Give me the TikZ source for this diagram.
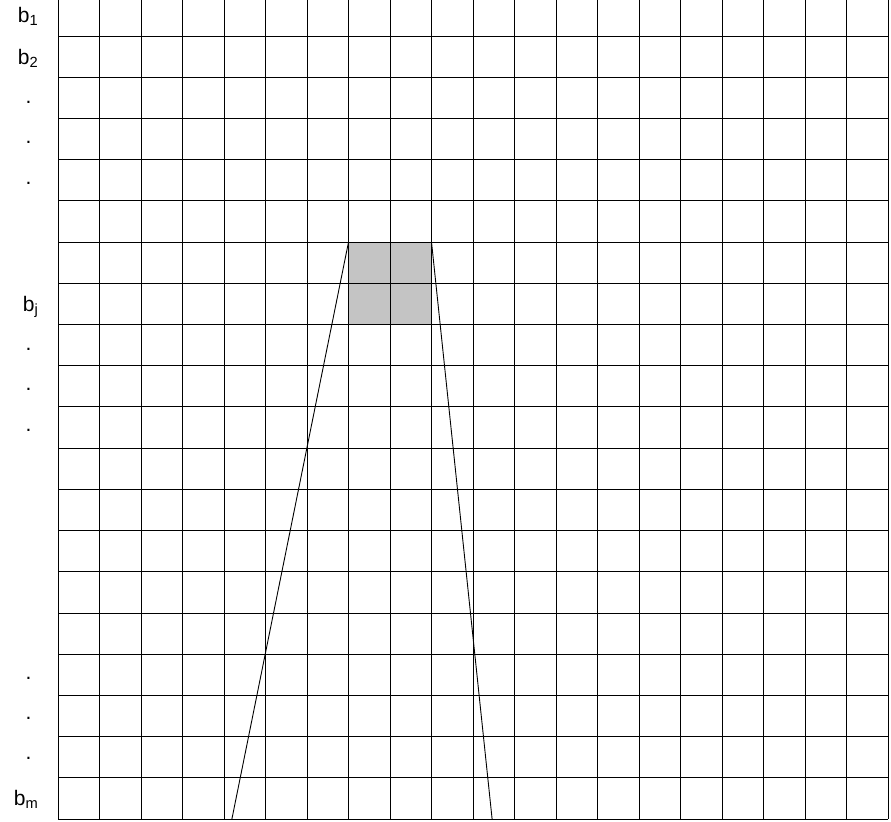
\documentclass[tikz,border=0pt]{standalone}
\usepackage{fontspec}
\setmainfont{Liberation Sans}
\usetikzlibrary{positioning}
\definecolor{blockgray}{HTML}{C4C4C4}

\begin{document}
\begin{tikzpicture}[x=41.5pt, y=41.21pt,
    cell/.style={line width=0.9pt, draw=black},
    lbl/.style={font=\fontsize{21}{25}\selectfont, inner sep=0pt, anchor=base east},
    dot/.style={font=\fontsize{21}{25}\selectfont, inner sep=0pt},
]
    \useasboundingbox (-1.398,-0.049) rectangle (20.072,19.874);

    % Shaded block
    \fill[blockgray] (7,12) rectangle (9,14);

    % Grid
    \draw[cell, step=1] (0,0) grid (20,20);

    % Window lines
    \coordinate (tl) at (7,14);
    \coordinate (tr) at (9,14);
    \coordinate (bl) at (4.19,0);
    \coordinate (br) at (10.46,0);
    \draw[line width=0.9pt] (tl) -- (bl);
    \draw[line width=0.9pt] (tr) -- (br);

    % Row labels
    \node[lbl] (b1) at (-0.47,19.32) {b\textsubscript{1}};
    \node[lbl] (b2) at (-0.47,18.32) {b\textsubscript{2}};
    \node[lbl] (bj) at (-0.47,12.32) {b\textsubscript{j}};
    \node[lbl] (bm) at (-0.47,0.32) {b\textsubscript{m}};

    % Dots
    \node[dot] (d1) at (-0.711,17.38) {.};
    \node[dot] (d2) at (-0.711,16.41) {.};
    \node[dot] (d3) at (-0.711,15.43) {.};
    \node[dot] (d4) at (-0.711,11.40) {.};
    \node[dot] (d5) at (-0.711,10.43) {.};
    \node[dot] (d6) at (-0.711,9.44) {.};
    \node[dot] (d7) at (-0.711,3.42) {.};
    \node[dot] (d8) at (-0.711,2.45) {.};
    \node[dot] (d9) at (-0.711,1.48) {.};
\end{tikzpicture}
\end{document}
